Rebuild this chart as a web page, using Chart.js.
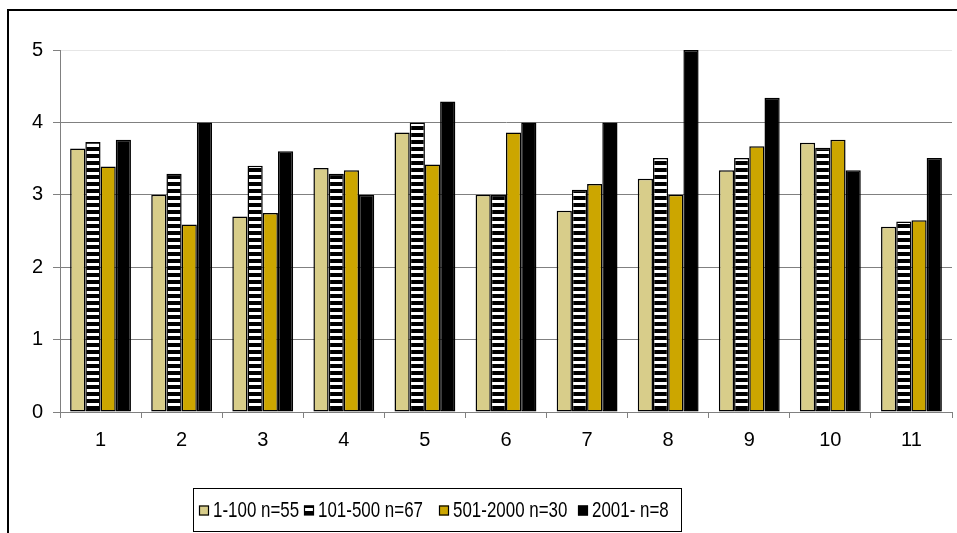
<!DOCTYPE html>
<html>
<head>
<meta charset="utf-8">
<script src="https://cdn.jsdelivr.net/npm/chart.js@4/dist/chart.umd.min.js"></script>
<style>
  html, body { margin: 0; padding: 0; background: #fff; }
  canvas { display: block; }
</style>
</head>
<body>
<canvas id="c" width="957" height="533"></canvas>
<script>
const categories = ['1','2','3','4','5','6','7','8','9','10','11'];
const seriesNames = ['1-100 n=55', '101-500 n=67', '501-2000 n=30', '2001- n=8'];
const s1 = [3.64, 3.00, 2.70, 3.37, 3.86, 3.00, 2.78, 3.22, 3.34, 3.72, 2.56];
const s2 = [3.73, 3.29, 3.40, 3.29, 4.00, 3.00, 3.07, 3.51, 3.51, 3.65, 2.63];
const s3 = [3.39, 2.59, 2.75, 3.34, 3.42, 3.86, 3.15, 3.00, 3.67, 3.76, 2.65];
const s4 = [3.76, 4.00, 3.60, 3.00, 4.29, 4.00, 4.00, 5.00, 4.34, 3.34, 3.51];
const yTicks = [0, 1, 2, 3, 4, 5];

const FONT = "'Liberation Sans', Arial, sans-serif";

function stripePattern(ctx) {
  const p = document.createElement('canvas');
  p.width = 8; p.height = 7;
  const g = p.getContext('2d');
  g.fillStyle = '#ffffff'; g.fillRect(0, 0, 8, 7);
  g.fillStyle = '#000000'; g.fillRect(0, 0, 8, 4);
  return ctx.createPattern(p, 'repeat');
}

const canvas = document.getElementById('c');
const ctx = canvas.getContext('2d');
const stripes = stripePattern(ctx);
const fills = ['#D8CD8A', stripes, '#CCA600', '#000000'];

const frameAndLegend = {
  id: 'frameAndLegend',
  afterDraw(chart) {
    const c = chart.ctx;
    c.save();
    // outer frame (left + top)
    c.strokeStyle = '#000'; c.lineWidth = 2;
    c.beginPath();
    c.moveTo(8, 533); c.lineTo(8, 10); c.lineTo(957, 10);
    c.stroke();
    // legend box
    const bx = 193, by = 488, bw = 488, bh = 43;
    c.lineWidth = 1; c.strokeStyle = '#000';
    c.strokeRect(bx + 0.5, by + 0.5, bw, bh);
    const midY = by + bh / 2 + 1;
    const box = 10;
    const markerX = [199, 304, 439, 578];
    seriesNames.forEach((t, i) => {
      const x = markerX[i];
      c.fillStyle = fills[i];
      c.fillRect(x, midY - box / 2, box, box);
      c.strokeStyle = '#000'; c.lineWidth = 1.2;
      c.strokeRect(x + 0.5, midY - box / 2 + 0.5, box - 1, box - 1);
      c.save();
      c.translate(x + 14, midY);
      c.scale(0.77, 1);
      c.font = '22px ' + FONT;
      c.textBaseline = 'middle';
      c.fillStyle = '#000';
      c.fillText(t, 0, 0);
      c.restore();
    });
    c.restore();
  }
};

new Chart(ctx, {
  type: 'bar',
  data: {
    labels: categories,
    datasets: [s1, s2, s3, s4].map((d, i) => ({
      label: seriesNames[i],
      data: d,
      backgroundColor: fills[i],
      borderColor: '#000000',
      borderWidth: 1.5,
      borderSkipped: false,
      categoryPercentage: 0.75,
      barPercentage: 1.0
    }))
  },
  options: {
    responsive: false,
    animation: false,
    devicePixelRatio: 1,
    layout: { padding: { top: 50, left: 0, right: 5, bottom: 0 } },
    plugins: { legend: { display: false }, tooltip: { enabled: false } },
    scales: {
      x: {
        afterFit(s) { s.height = 121; },
        grid: {
          offset: true, drawOnChartArea: false, drawTicks: true,
          tickLength: 6, tickColor: '#808080', color: '#808080'
        },
        border: { color: '#808080', width: 1 },
        ticks: { color: '#000', font: { family: FONT, size: 20 }, padding: 10, maxRotation: 0 }
      },
      y: {
        min: 0, max: 5,
        afterFit(s) { s.width = 60; },
        afterBuildTicks(s) { s.ticks = yTicks.map(v => ({ value: v })); },
        grid: {
          color: ctx => (ctx.tick && ctx.tick.value === 5) ? '#e6e6e6' : '#808080',
          tickColor: '#808080', tickLength: 7, lineWidth: 1
        },
        border: { color: '#808080', width: 1 },
        ticks: { color: '#000', font: { family: FONT, size: 20 }, padding: 10, stepSize: 1 }
      }
    }
  },
  plugins: [frameAndLegend]
});
</script>
</body>
</html>
